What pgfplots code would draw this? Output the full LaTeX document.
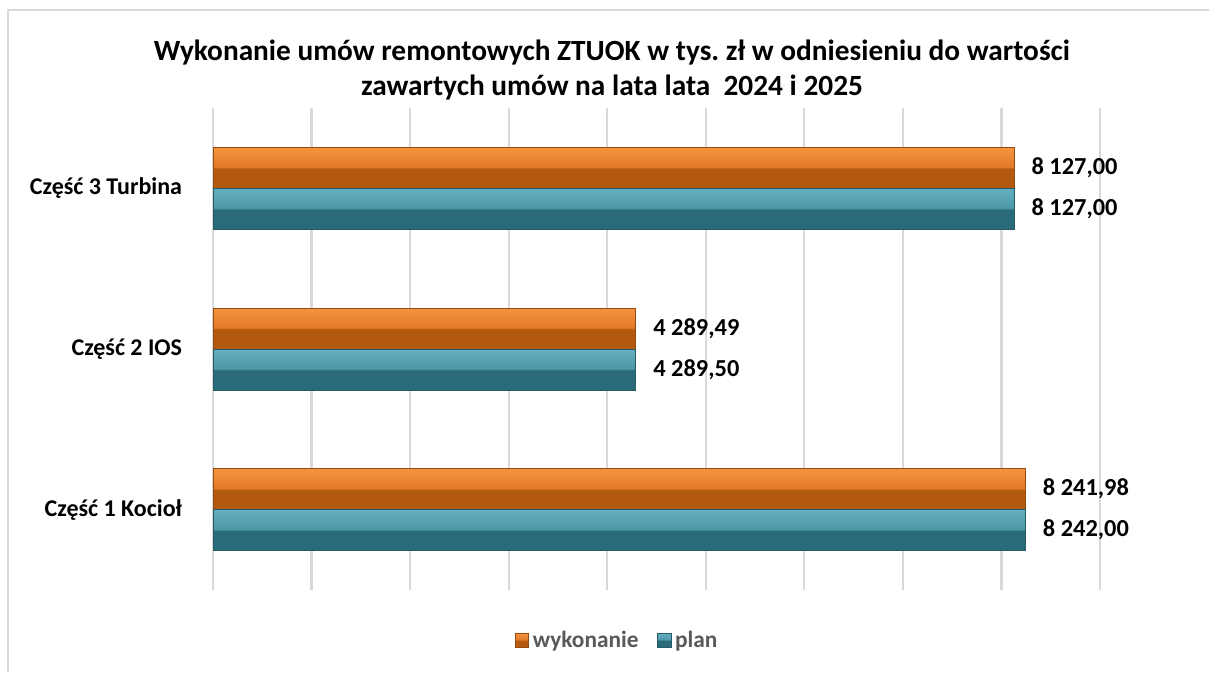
\documentclass[border=0pt]{standalone}
\usepackage{pgfplots}
\pgfplotsset{compat=1.18}
\usepackage{fontspec}
\setmainfont{Carlito}
\frenchspacing
\definecolor{oL}{HTML}{F5943F}
\definecolor{oM}{HTML}{E27A27}
\definecolor{oD}{HTML}{B3580F}
\definecolor{tL}{HTML}{64B0C1}
\definecolor{tM}{HTML}{4C97A8}
\definecolor{tD}{HTML}{2B6A79}
\definecolor{gridc}{HTML}{D9D9D9}
\definecolor{legc}{HTML}{595959}
\pgfdeclareverticalshading{orangebevel}{100bp}{color(0bp)=(oD); color(25bp)=(oD); color(49bp)=(oD); color(51bp)=(oM); color(75bp)=(oL); color(100bp)=(oL)}
\pgfdeclareverticalshading{tealbevel}{100bp}{color(0bp)=(tD); color(25bp)=(tD); color(49bp)=(tD); color(51bp)=(tM); color(75bp)=(tL); color(100bp)=(tL)}
\pgfplotsset{
  wyk/.style={xbar, bar shift=0.1275, shade, shading=orangebevel, draw=oD!85!black, line width=0.4pt},
  pla/.style={xbar, bar shift=-0.1275, shade, shading=tealbevel, draw=tD!85!black, line width=0.4pt},
}
\begin{document}
\begin{tikzpicture}[x=0.75pt,y=0.75pt]
\useasboundingbox (0,0) rectangle (1209,672);
\fill[white] (0,0) rectangle (1209,672);
\draw[gridc, line width=2pt] (8,0) -- (8,662) -- (1209,662);
\node[align=center, font=\fontsize{22}{26.25}\selectfont\bfseries, text=black] at (612,602)
  {Wykonanie umów remontowych ZTUOK w tys. zł w odniesieniu do wartości\\zawartych umów na lata lata\ \ 2024 i 2025};
\begin{axis}[
  at={(159.75pt,121.75pt)}, anchor=origin,
  scale only axis, width=665.25pt, height=361.5pt,
  xbar, bar width=0.255,
  xmin=0, xmax=9000, ymin=-0.5, ymax=2.5,
  enlargelimits=false,
  xtick={0,1000,...,9000}, xticklabels={},
  xmajorgrids, grid style={gridc, line width=1.6pt},
  ytick={0,1,2},
  yticklabels={Część 1 Kocioł, Część 2 IOS, Część 3 Turbina},
  yticklabel style={font=\fontsize{18}{20}\selectfont\bfseries, inner sep=0pt, xshift=-23pt},
  major tick length=0pt, tick style={draw=none},
  axis line style={draw=none},
  clip=false,
  nodes near coords,
  point meta=explicit symbolic,
  every node near coord/.append style={anchor=west, inner sep=0pt, xshift=13pt, font=\fontsize{18.3}{20}\selectfont\bfseries, text=black},
  legend columns=2,
  legend style={at={(axis description cs:0.456,-0.104)}, anchor=center, draw=none, fill=none,
    font=\fontsize{17.5}{20}\selectfont\bfseries, text=legc,
    /tikz/every odd column/.append style={column sep=1pt},
    /tikz/every even column/.append style={column sep=12pt}},
  legend image code/.code={\path[#1] (0pt,-5pt) rectangle (10pt,5pt);},
]
\addplot[wyk] coordinates {(8241.98,0) [8 241,98]};
\addlegendentry{wykonanie}
\addplot[pla] coordinates {(8242.00,0) [8 242,00]};
\addlegendentry{plan}
\addplot[wyk, forget plot] coordinates {(4289.49,1) [4 289,49]};
\addplot[pla, forget plot] coordinates {(4289.50,1) [4 289,50]};
\addplot[wyk, forget plot] coordinates {(8127.00,2) [8 127,00]};
\addplot[pla, forget plot] coordinates {(8127.00,2) [8 127,00]};
\end{axis}
\end{tikzpicture}
\end{document}
